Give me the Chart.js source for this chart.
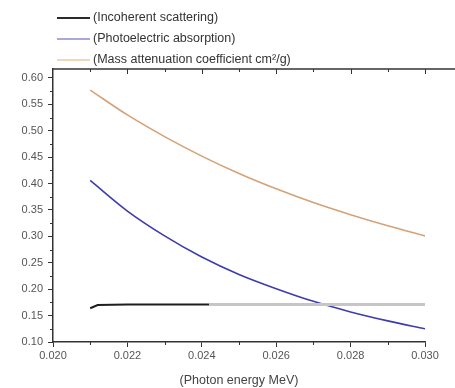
<!DOCTYPE html>
<html lang="en">
<head>
    <meta charset="UTF-8">
    <title>Attenuation</title>
    <script src="https://cdn.jsdelivr.net/npm/chart.js@4.4.0/dist/chart.umd.min.js"></script>
</head>
<style>
    body {
        margin: 0;
        background: #fff;
    }
    .caja {
        width: 455px;
        height: 388px;
    }
</style>
<body>
    <div class="caja">
        <canvas id="grafica"></canvas>
    </div>

    <script>
        // Energia del foton (MeV)
        const energia = [0.021, 0.022, 0.023, 0.024, 0.025, 0.026, 0.027, 0.028, 0.029, 0.030];
        const fotoelectrica = [0.406, 0.348, 0.301, 0.261, 0.228, 0.201, 0.177, 0.157, 0.140, 0.125];
        const atenuacion = [0.577, 0.530, 0.489, 0.452, 0.419, 0.390, 0.364, 0.341, 0.320, 0.301];

        // Dispersion incoherente: casi plana, negra hasta 0.0242 y gris despues
        const energiaIncoherente = [0.021, 0.0212, 0.022, 0.023, 0.024, 0.0242, 0.025, 0.026, 0.027, 0.028, 0.029, 0.030];
        const incoherente = [0.164, 0.170, 0.171, 0.171, 0.171, 0.171, 0.171, 0.171, 0.171, 0.171, 0.171, 0.171];
        const corteGris = 0.0242;

        const etiquetas = [
            "(Incoherent scattering)",
            "(Photoelectric absorption)",
            "(Mass attenuation coefficient cm²/g)"
        ];

        const puntos = (xs, ys) => xs.map((x, i) => ({ x: x, y: ys[i] }));

        // Leyenda dibujada a mano arriba a la izquierda
        const leyenda = {
            id: "leyenda",
            afterDraw(chart) {
                const ctx = chart.ctx;
                const colores = ["#2a2a2a", "#a8a8dc", "#ecc9a0"];
                const grosor = [2, 2, 1.5];
                ctx.save();
                ctx.font = "12.5px 'Liberation Sans', Arial, sans-serif";
                ctx.textBaseline = "middle";
                etiquetas.forEach((txt, i) => {
                    const y = 18 + i * 21;
                    ctx.strokeStyle = colores[i];
                    ctx.lineWidth = grosor[i];
                    ctx.beginPath();
                    ctx.moveTo(57, y);
                    ctx.lineTo(90, y);
                    ctx.stroke();
                    ctx.fillStyle = "#333";
                    ctx.fillText(txt, 93, y);
                });
                ctx.restore();
            }
        };

        // Marcas menores y linea superior del marco
        const marcas = {
            id: "marcas",
            afterDraw(chart) {
                const ctx = chart.ctx;
                const area = chart.chartArea;
                const sx = chart.scales.x;
                const sy = chart.scales.y;
                ctx.save();
                ctx.strokeStyle = "#333";
                ctx.lineWidth = 1;
                ctx.beginPath();
                for (let v = 0.021; v < 0.0305; v += 0.002) {
                    const px = Math.round(sx.getPixelForValue(v)) + 0.5;
                    ctx.moveTo(px, area.bottom);
                    ctx.lineTo(px, area.bottom + 3);
                    ctx.moveTo(px, area.top);
                    ctx.lineTo(px, area.top + 3);
                }
                for (let v = 0.022; v < 0.0305; v += 0.002) {
                    const px = Math.round(sx.getPixelForValue(v)) + 0.5;
                    ctx.moveTo(px, area.top);
                    ctx.lineTo(px, area.top + 5);
                }
                for (let v = 0.125; v < 0.61; v += 0.05) {
                    const py = Math.round(sy.getPixelForValue(v)) + 0.5;
                    ctx.moveTo(area.left, py);
                    ctx.lineTo(area.left - 3, py);
                }
                ctx.stroke();
                ctx.lineWidth = 1.5;
                ctx.beginPath();
                ctx.moveTo(area.left, area.top);
                ctx.lineTo(chart.width, area.top);
                ctx.stroke();
                ctx.restore();
            }
        };

        const fuenteEjes = { family: "'Liberation Sans', Arial, sans-serif", size: 11 };

        new Chart(document.querySelector("#grafica"), {
            type: "line",
            data: {
                datasets: [
                    {
                        label: etiquetas[0],
                        data: puntos(energiaIncoherente, incoherente),
                        borderColor: "#1e1e1e",
                        borderWidth: 2,
                        pointRadius: 0,
                        segment: {
                            borderColor: c => c.p0.parsed.x >= corteGris ? "#c6c6c6" : "#1e1e1e",
                            borderWidth: c => c.p0.parsed.x >= corteGris ? 3 : 2
                        }
                    },
                    {
                        label: etiquetas[1],
                        data: puntos(energia, fotoelectrica),
                        borderColor: "#3e3cac",
                        borderWidth: 1.6,
                        pointRadius: 0,
                        cubicInterpolationMode: "monotone"
                    },
                    {
                        label: etiquetas[2],
                        data: puntos(energia, atenuacion),
                        borderColor: "#d4a276",
                        borderWidth: 1.6,
                        pointRadius: 0,
                        cubicInterpolationMode: "monotone"
                    }
                ]
            },
            options: {
                responsive: true,
                maintainAspectRatio: false,
                animation: false,
                layout: { padding: { top: 69, right: 30, left: 0, bottom: 0 } },
                plugins: {
                    legend: { display: false },
                    tooltip: { enabled: false }
                },
                scales: {
                    x: {
                        type: "linear",
                        min: 0.020,
                        max: 0.030,
                        border: { display: true, color: "#333", width: 1.5 },
                        grid: { drawOnChartArea: false, drawTicks: true, tickLength: 5, color: "#333" },
                        ticks: {
                            stepSize: 0.002,
                            padding: 2,
                            color: "#555",
                            font: fuenteEjes,
                            maxRotation: 0,
                            callback: v => v.toFixed(3)
                        },
                        title: {
                            display: true,
                            text: "(Photon energy MeV)",
                            color: "#444",
                            font: { family: "'Liberation Sans', Arial, sans-serif", size: 12.5 },
                            padding: { top: 6, bottom: 0 }
                        },
                        afterFit: s => { s.height = 46; }
                    },
                    y: {
                        min: 0.10,
                        max: 0.617,
                        border: { display: true, color: "#333", width: 1.5 },
                        grid: { drawOnChartArea: false, drawTicks: true, tickLength: 5, color: "#333" },
                        ticks: {
                            stepSize: 0.05,
                            includeBounds: false,
                            padding: 5,
                            color: "#555",
                            font: fuenteEjes,
                            callback: v => v.toFixed(2)
                        },
                        afterFit: s => { s.width = 53; }
                    }
                }
            },
            plugins: [leyenda, marcas]
        });
    </script>
</body>
</html>
